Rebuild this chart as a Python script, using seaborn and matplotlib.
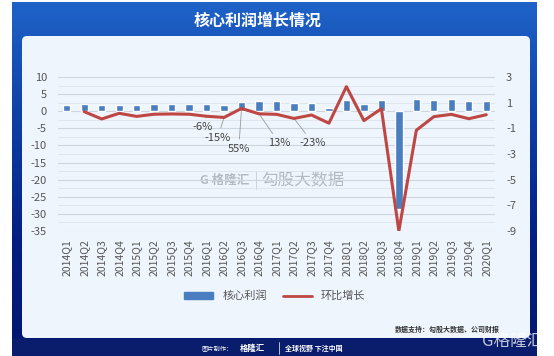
import numpy as np
import pandas as pd
import seaborn as sns
import matplotlib.pyplot as plt
from matplotlib.colors import LinearSegmentedColormap
from matplotlib.patches import FancyBboxPatch, Rectangle
from matplotlib.lines import Line2D
from matplotlib.ticker import MultipleLocator

quarters = ["2014Q1", "2014Q2", "2014Q3", "2014Q4", "2015Q1", "2015Q2", "2015Q3",
            "2015Q4", "2016Q1", "2016Q2", "2016Q3", "2016Q4", "2017Q1", "2017Q2",
            "2017Q3", "2017Q4", "2018Q1", "2018Q2", "2018Q3", "2018Q4", "2019Q1",
            "2019Q2", "2019Q3", "2019Q4", "2020Q1"]
# 核心利润 (左轴)
core_profit = [1.7, 2.1, 1.7, 1.8, 1.8, 2.0, 2.1, 2.2, 2.0, 1.7, 2.7, 3.0, 3.1,
               2.5, 2.3, 1.0, 3.2, 2.0, 3.2, -28.6, 3.7, 3.4, 3.7, 2.9, 2.9]
# 环比增长 (右轴), 2014Q1 无数据
qoq_growth = [np.nan, 0.30, -0.27, 0.17, -0.07, 0.10, 0.12, 0.10, -0.06, -0.15,
              0.55, 0.13, 0.09, -0.23, 0.04, -0.60, 2.25, -0.40, 0.53, -9.0,
              -1.15, -0.09, 0.09, -0.25, 0.06]
# 标注
notes = {"2016Q1": "-6%", "2016Q2": "-15%", "2016Q3": "55%", "2016Q4": "13%", "2017Q2": "-23%"}

df = pd.DataFrame({"quarter": quarters, "core": core_profit, "qoq": qoq_growth})
df["pos"] = np.arange(len(df))

sns.set_theme(style="white")
plt.rcParams["font.family"] = ["Noto Sans CJK SC", "DejaVu Sans"]
plt.rcParams["axes.unicode_minus"] = False

W, H = 554, 356
fig = plt.figure(figsize=(W / 100, H / 100), dpi=100)
fig.patch.set_facecolor("white")

# ---- 背景框 ----
bg = fig.add_axes([0, 0, 1, 1])
bg.set_xlim(0, W)
bg.set_ylim(H, 0)
bg.axis("off")
cmap = LinearSegmentedColormap.from_list("frame", ["#1f63c8", "#0d3fa6", "#041f82", "#021670"])
grad = np.linspace(0, 1, 256).reshape(-1, 1)
bg.imshow(grad, cmap=cmap, extent=[12, 537, H, 2], aspect="auto", zorder=0)
bg.add_patch(FancyBboxPatch((22, 36), 508, 302, boxstyle="round,pad=0,rounding_size=5",
                            facecolor="#eef5fc", edgecolor="none", zorder=1))
bg.add_patch(Rectangle((12, 339), 525, 17, facecolor="#0a1c6c", edgecolor="none", zorder=1))
bg.text(258, 21, "核心利润增长情况", color="white", fontsize=11.5, fontweight="bold",
        ha="center", va="center", zorder=2)
bg.text(447, 329, "数据支持：勾股大数据、公司财报", color="#333333", fontsize=5,
        fontweight="bold", ha="center", va="center", zorder=2)
bg.text(202, 348, "图片制作：", color="white", fontsize=4.5, ha="left", va="center", zorder=2)
bg.text(240, 348, "格隆汇", color="white", fontsize=6, fontweight="bold", ha="left", va="center", zorder=2)
bg.plot([279, 279], [342, 354], color="white", lw=0.5, zorder=2)
bg.text(285, 348, "全球视野 下注中国", color="white", fontsize=5, fontweight="bold",
        ha="left", va="center", zorder=2)
bg.text(513, 341, "G格隆汇", color="white", alpha=0.75, fontsize=12, ha="center", va="center", zorder=3)
# 中央水印
bg.text(225, 180, "G 格隆汇", color="#b5bac1", fontsize=9, fontweight="bold", ha="center", va="center", zorder=2)
bg.plot([256, 256], [171, 189], color="#c8cdd3", lw=0.6, zorder=2)
bg.text(303, 180, "勾股大数据", color="#b5bac1", fontsize=12, ha="center", va="center", zorder=2)

# ---- 主图 ----
ax = fig.add_axes([58 / W, 1 - 231 / H, 437 / W, 154 / H])
ax.patch.set_alpha(0)
sns.barplot(data=df, x="quarter", y="core", color="#4a7ebf", width=0.42,
            saturation=1, ax=ax, zorder=3)
ax.set_ylim(-35, 10)
ax.set_xlim(-0.5, len(df) - 0.5)
ax.yaxis.set_major_locator(MultipleLocator(5))
ax.yaxis.set_minor_locator(MultipleLocator(2.5))
ax.grid(axis="y", which="major", color="#cdd5de", lw=0.8, zorder=0)
ax.grid(axis="y", which="minor", color="#dde4ec", lw=0.6, zorder=0)
ax.set_axisbelow(True)
for s in ax.spines.values():
    s.set_visible(False)
ax.set_xlabel("")
ax.set_ylabel("")
ax.tick_params(axis="y", which="both", length=0, pad=8, labelsize=8, labelcolor="#555555")
ax.tick_params(axis="x", length=0, pad=6, labelsize=7.5, labelcolor="#555555", rotation=90)

ax2 = ax.twinx()
sns.lineplot(data=df.dropna(), x="pos", y="qoq", color="#be4643", lw=2.2, ax=ax2, zorder=4)
ax2.set_ylim(-9, 3)
ax2.set_yticks([3, 1, -1, -3, -5, -7, -9])
ax2.set_xlim(-0.5, len(df) - 0.5)
ax2.set_ylabel("")
for s in ax2.spines.values():
    s.set_visible(False)
ax2.tick_params(axis="y", length=0, pad=8, labelsize=8, labelcolor="#555555")

offsets = {"-6%": (-3, -8), "-15%": (-4.5, -14.5), "55%": (-2, -29), "13%": (14.5, -21), "-23%": (13.5, -17.5)}
for q, label in notes.items():
    row = df[df["quarter"] == q].iloc[0]
    ax2.annotate(label, xy=(row["pos"], row["qoq"]), xytext=offsets[label],
                 textcoords="offset points", ha="center", va="center", fontsize=8,
                 color="#444444",
                 arrowprops=dict(arrowstyle="-", color="#9a9a9a", lw=0.6, shrinkA=1, shrinkB=0))

handles = [Rectangle((0, 0), 1, 1, color="#4a7ebf"), Line2D([0], [0], color="#be4643", lw=2)]
fig.legend(handles, ["核心利润", "环比增长"], loc="center", bbox_to_anchor=(275 / W, 1 - 296 / H),
           ncol=2, frameon=False, fontsize=8, handlelength=2.6, handleheight=0.5,
           columnspacing=1.5, labelcolor="#555555")

fig.savefig("out.png", dpi=100)
